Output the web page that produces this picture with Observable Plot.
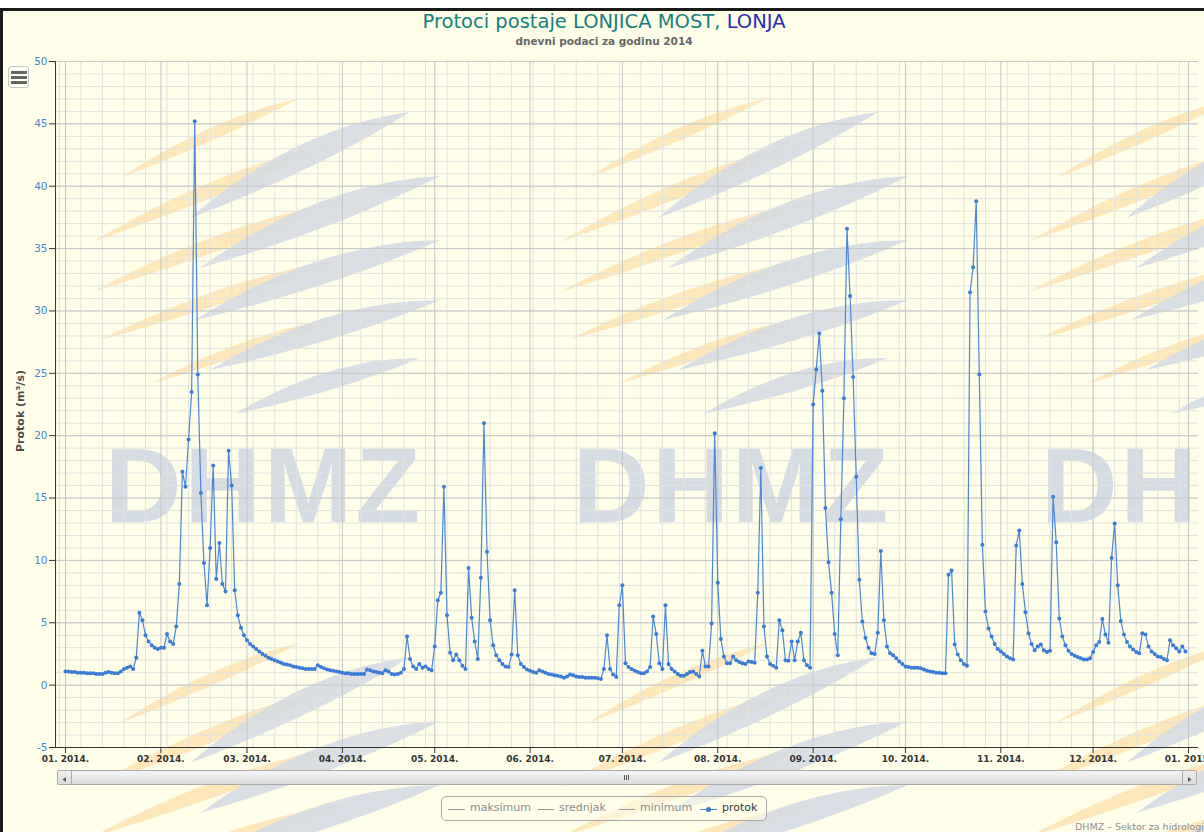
<!DOCTYPE html>
<html>
<head>
<meta charset="utf-8">
<script src="https://cdn.jsdelivr.net/npm/d3@7"></script>
<script src="https://cdn.jsdelivr.net/npm/@observablehq/plot@0.6"></script>
<style>
html, body { margin: 0; padding: 0; background: #fff; overflow: hidden; width: 1204px; height: 832px; }
#page { position: absolute; left: 0; top: 0; width: 1204px; height: 832px; overflow: hidden; font-family: "DejaVu Sans", Verdana, sans-serif; }
#bg { position: absolute; left: 0; top: 8px; width: 1230px; height: 830px; background: #fefee9; }
#wings { position: absolute; left: 0; top: 0; }
#btop { position: absolute; left: 0; top: 8px; width: 1230px; height: 3px; background: #1a1a1a; }
#bleft { position: absolute; left: 0; top: 8px; width: 3px; height: 830px; background: #1a1a1a; }
.wm { position: absolute; top: 432px; font-family: "Liberation Sans", Arial, sans-serif; font-weight: bold; font-size: 106px; line-height: 106px; color: #d6dce4; letter-spacing: 3px; white-space: nowrap; }
#title { position: absolute; left: 0; width: 1208px; top: 11px; text-align: center; font-size: 19.5px; line-height: 22px; color: #16807f; white-space: nowrap; }
#title .river { color: #2a2ab0; }
#subtitle { position: absolute; left: 0; width: 1208px; top: 34px; text-align: center; font-size: 10.5px; font-weight: bold; line-height: 14px; color: #666; white-space: nowrap; }
#chart { position: absolute; left: 0; top: 50px; width: 1220px; height: 722px; }
#chart svg { overflow: visible; max-width: none !important; width: 1220px; height: 722px; }
#chart [aria-label="y-axis tick label"] { fill: #4a86d0; }
#chart [aria-label="x-axis tick label"] { fill: #333; }
#chart [aria-label="y-axis tick"], #chart [aria-label="x-axis tick"] { stroke: #333; }
#ytitle { position: absolute; left: 20px; top: 411px; transform: translate(-50%, -50%) rotate(-90deg); font-size: 11px; font-weight: bold; color: #4d4d4d; white-space: nowrap; }
#menu { position: absolute; left: 8px; top: 66px; width: 21px; height: 22px; border: 1px solid #c8c8c8; border-radius: 3px; background: #fbfbf0; box-sizing: border-box; }
#menu div { position: absolute; left: 2px; width: 16px; height: 3px; background: #666; }
#scroll { position: absolute; left: 57px; top: 770px; width: 1140px; height: 15px; border: 1px solid #aaa; border-radius: 2px; background: #eee; box-sizing: border-box; }
#thumb { position: absolute; left: 13px; right: 13px; top: 0; bottom: 0; background: linear-gradient(#f6f6f6, #dadada); border-left: 1px solid #aaa; border-right: 1px solid #aaa; }
.sbtn { position: absolute; top: 0; width: 13px; height: 13px; background: linear-gradient(#f0f0f0, #dcdcdc); }
.grip { position: absolute; top: 4px; width: 1px; height: 5px; background: #555; }
#legend { position: absolute; left: 441px; top: 796px; width: 326px; height: 25px; border: 1px solid #a8a8a8; border-radius: 5px; box-sizing: border-box; background: rgba(254,254,233,0.6); }
.li { position: absolute; top: 800px; font-size: 11px; line-height: 16px; white-space: nowrap; }
.ll { position: absolute; top: 809px; height: 1px; }
#credit { position: absolute; left: 1075px; top: 821px; font-size: 9.5px; line-height: 11px; color: #909090; white-space: nowrap; }
</style>
</head>
<body>
<div id="page">
  <div id="bg"></div>
  <svg id="wings" width="1204" height="832"></svg>
  <div class="wm" style="left:105px">DHMZ</div>
  <div class="wm" style="left:573px">DHMZ</div>
  <div class="wm" style="left:1041px">DHMZ</div>
  <div id="btop"></div>
  <div id="bleft"></div>
  <div id="title">Protoci postaje LONJICA MOST, <span class="river">LONJA</span></div>
  <div id="subtitle">dnevni podaci za godinu 2014</div>
  <div id="chart"></div>
  <div id="ytitle">Protok (m³/s)</div>
  <div id="menu"><div style="top:4px"></div><div style="top:9px"></div><div style="top:14px"></div></div>
  <div id="scroll">
    <div class="sbtn" style="left:0"><svg width="13" height="13"><path d="M8 4 L4.5 6.5 L8 9 Z" fill="#555"/></svg></div>
    <div id="thumb">
      <div class="grip" style="left:552px"></div><div class="grip" style="left:554px"></div><div class="grip" style="left:556px"></div>
    </div>
    <div class="sbtn" style="right:0"><svg width="13" height="13"><path d="M5 4 L8.5 6.5 L5 9 Z" fill="#555"/></svg></div>
  </div>
  <div id="legend"></div>
  <div class="ll" style="left:448px;width:17px;background:#999"></div>
  <div class="li" style="left:470px;color:#8c8c8c">maksimum</div>
  <div class="ll" style="left:538px;width:16px;background:#999"></div>
  <div class="li" style="left:559px;color:#8c8c8c">srednjak</div>
  <div class="ll" style="left:619px;width:16px;background:#999"></div>
  <div class="li" style="left:640px;color:#8c8c8c">minimum</div>
  <div class="ll" style="left:700px;width:17px;background:#4a87d9"></div>
  <div style="position:absolute;left:706px;top:807px;width:5px;height:5px;border-radius:50%;background:#3a7bd5"></div>
  <div class="li" style="left:722px;color:#333">protok</div>
  <div id="credit">DHMZ – Sektor za hidrologiju</div>
</div>
<script>
const year = 2014;
const jan = [1.1, 1.1, 1.05, 1.05, 1.0, 1.0, 1.0, 0.95, 0.95, 0.95, 0.9, 0.9, 0.9, 1.0, 1.05, 1.0, 0.95, 0.95, 1.1, 1.3, 1.4, 1.5, 1.3, 2.2, 5.8, 5.2, 4.0, 3.5, 3.2, 3.0, 2.9];
const feb = [3.0, 3.0, 4.1, 3.5, 3.3, 4.7, 8.1, 17.1, 15.9, 19.7, 23.5, 45.2, 24.9, 15.4, 9.8, 6.4, 11.0, 17.6, 8.5, 11.4, 8.1, 7.5, 18.8, 16.0, 7.6, 5.6, 4.6, 4.0];
const mar = [3.6, 3.3, 3.1, 2.9, 2.7, 2.5, 2.35, 2.2, 2.1, 2.0, 1.9, 1.8, 1.7, 1.65, 1.6, 1.5, 1.45, 1.4, 1.35, 1.3, 1.3, 1.3, 1.3, 1.6, 1.45, 1.35, 1.25, 1.2, 1.15, 1.1, 1.05];
const apr = [1.0, 0.95, 0.95, 0.9, 0.9, 0.9, 0.9, 0.9, 1.25, 1.2, 1.1, 1.05, 1.0, 0.95, 1.2, 1.1, 0.9, 0.85, 0.9, 1.0, 1.3, 3.9, 2.1, 1.5, 1.3, 1.7, 1.4, 1.5, 1.3, 1.2];
const may = [3.1, 6.8, 7.4, 15.9, 5.6, 2.6, 2.0, 2.45, 2.0, 1.55, 1.3, 9.4, 5.4, 3.5, 2.1, 8.6, 21.0, 10.7, 5.2, 3.2, 2.4, 2.0, 1.7, 1.5, 1.45, 2.45, 7.6, 2.4, 1.7, 1.45, 1.25];
const jun = [1.15, 1.05, 1.0, 1.2, 1.1, 1.0, 0.9, 0.85, 0.8, 0.75, 0.7, 0.6, 0.7, 0.85, 0.8, 0.7, 0.65, 0.65, 0.6, 0.6, 0.6, 0.6, 0.55, 0.5, 1.3, 4.0, 1.3, 0.85, 0.65, 6.4];
const jul = [8.0, 1.75, 1.45, 1.3, 1.15, 1.05, 0.95, 0.95, 1.1, 1.45, 5.5, 4.1, 1.75, 1.3, 6.4, 1.7, 1.3, 1.1, 0.9, 0.75, 0.75, 0.9, 1.05, 1.1, 0.9, 0.7, 2.75, 1.5, 1.5, 4.95, 20.2];
const aug = [8.2, 3.7, 2.3, 1.75, 1.75, 2.3, 2.0, 1.85, 1.75, 1.7, 1.9, 1.85, 1.8, 7.4, 17.4, 4.7, 2.3, 1.7, 1.55, 1.4, 5.2, 4.4, 2.0, 1.95, 3.5, 2.0, 3.5, 4.2, 2.0, 1.6, 1.4];
const sep = [22.5, 25.3, 28.2, 23.6, 14.2, 9.85, 7.4, 4.1, 2.4, 13.3, 23.0, 36.6, 31.2, 24.7, 16.7, 8.45, 5.1, 3.8, 3.0, 2.55, 2.5, 4.2, 10.75, 5.2, 3.1, 2.55, 2.4, 2.15, 1.9, 1.7];
const oct = [1.5, 1.45, 1.4, 1.4, 1.4, 1.35, 1.25, 1.15, 1.1, 1.05, 1.0, 1.0, 0.95, 0.95, 8.85, 9.2, 3.25, 2.45, 2.0, 1.7, 1.55, 31.5, 33.5, 38.8, 24.9, 11.25, 5.9, 4.55, 3.9, 3.3, 2.9];
const nov = [2.7, 2.5, 2.3, 2.15, 2.05, 11.2, 12.4, 8.1, 5.85, 4.15, 3.3, 2.8, 3.1, 3.25, 2.8, 2.65, 2.75, 15.1, 11.45, 5.35, 3.9, 3.2, 2.75, 2.5, 2.35, 2.25, 2.15, 2.05, 2.05, 2.15];
const dec = [2.65, 3.2, 3.45, 5.3, 4.05, 3.4, 10.2, 12.95, 8.0, 5.15, 4.05, 3.45, 3.1, 2.85, 2.65, 2.55, 4.15, 4.05, 3.1, 2.7, 2.5, 2.3, 2.25, 2.1, 2.0, 3.6, 3.2, 2.95, 2.7, 3.1, 2.7];
const yTicks = [-5, 0, 5, 10, 15, 20, 25, 30, 35, 40, 45, 50];

// decorative background logo (watermark wings), not data
(function drawWings() {
  const orange = [[120,178,300,98,12],[92,242,345,140,15],[92,292,350,200,15],[100,340,350,258,14],[150,384,340,318,12]];
  const grey = [[190,218,410,112,24],[200,268,440,176,25],[195,320,440,240,24],[210,370,440,300,22],[235,414,420,358,18]];
  const svg = d3.select("#wings");
  for (const ox of [0, 468, 936]) {
    for (const oy of [0, 545]) {
      for (const [set, col] of [[orange, "#fde4b6"], [grey, "#d5dbe3"]]) {
        for (const [x1, y1, x2, y2, t] of set) {
          const dx = x2 - x1, dy = y2 - y1, len = Math.hypot(dx, dy);
          const nx = dy / len, ny = -dx / len;
          const mx = x1 + dx * 0.55, my = y1 + dy * 0.55;
          const bow = 0.5 * t;
          const cu = [mx + nx * (t + bow), my + ny * (t + bow)];
          const cd = [mx - nx * (t - bow), my - ny * (t - bow)];
          svg.append("path")
            .attr("d", `M${x1 + ox},${y1 + oy} Q${cu[0] + ox},${cu[1] + oy} ${x2 + ox},${y2 + oy} Q${cd[0] + ox},${cd[1] + oy} ${x1 + ox},${y1 + oy} Z`)
            .attr("fill", col)
            .attr("opacity", 0.9);
        }
      }
    }
  }
})();

const protok = [...jan, ...feb, ...mar, ...apr, ...may, ...jun, ...jul, ...aug, ...sep, ...oct, ...nov, ...dec];
const data = protok.map((v, i) => ({date: new Date(Date.UTC(year, 0, 1 + i)), value: v}));

const xDomain = [new Date(Date.UTC(year - 1, 11, 28, 18)), new Date(Date.UTC(year + 1, 0, 4, 6))];
const monthTicks = d3.utcMonth.range(new Date(Date.UTC(year, 0, 1)), new Date(Date.UTC(year + 1, 0, 2)));
const mondays = d3.utcMonday.range(xDomain[0], xDomain[1]);
const minorY = d3.range(-5, 51, 1);
const fmt = d3.utcFormat("%m. %Y.");

const chart = Plot.plot({
  width: 1220,
  height: 722,
  marginLeft: 55,
  marginRight: 22,
  marginTop: 11,
  marginBottom: 25,
  style: {background: "transparent", fontFamily: "DejaVu Sans, Verdana, sans-serif", overflow: "visible", maxWidth: "none"},
  x: {type: "utc", domain: xDomain},
  y: {domain: [-5, 50]},
  marks: [
    Plot.gridY(minorY, {stroke: "#e2e2de", strokeOpacity: 1}),
    Plot.gridX(mondays, {stroke: "#e2e2de", strokeOpacity: 1}),
    Plot.gridY(yTicks, {stroke: "#c6c6c6", strokeOpacity: 1}),
    Plot.gridX(monthTicks, {stroke: "#c6c6c6", strokeOpacity: 1}),
    Plot.axisY(yTicks, {tickSize: 6, tickPadding: 2, tickFormat: d => String(d), label: null, fontSize: 10.5}),
    Plot.axisX(monthTicks, {tickSize: 6, tickPadding: 2, tickFormat: fmt, label: null, fontSize: 9, fontWeight: "bold"}),
    Plot.ruleX([xDomain[0]], {stroke: "#333"}),
    Plot.ruleY([-5], {stroke: "#333"}),
    Plot.line(data, {x: "date", y: "value", stroke: "#4a87d9", strokeWidth: 1.2}),
    Plot.dot(data, {x: "date", y: "value", r: 2, fill: "#3a7bd5", stroke: "none"})
  ]
});
document.getElementById("chart").appendChild(chart);
</script>
</body>
</html>
